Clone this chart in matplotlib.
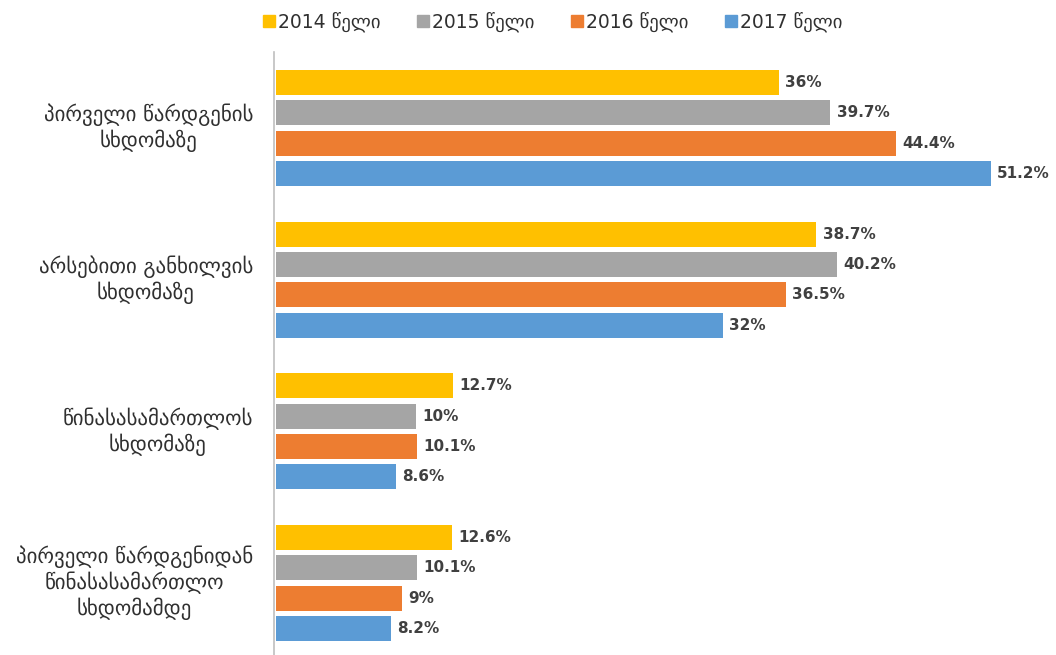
import matplotlib
matplotlib.use("Agg")
import matplotlib.pyplot as plt
from matplotlib.lines import Line2D
import numpy as np

categories = [
    "პირველი წარდგენის\nსხდომაზე",
    "არსებითი განხილვის\nსხდომაზე",
    "წინასასამართლოს\nსხდომაზე",
    "პირველი წარდგენიდან\nწინასასამართლო\nსხდომამდე",
]
series_names = ["2014 წელი", "2015 წელი", "2016 წელი", "2017 წელი"]
v2014 = [36, 38.7, 12.7, 12.6]
v2015 = [39.7, 40.2, 10, 10.1]
v2016 = [44.4, 36.5, 10.1, 9]
v2017 = [51.2, 32, 8.6, 8.2]
values = [v2014, v2015, v2016, v2017]
colors = ["#FFC000", "#A5A5A5", "#ED7D31", "#5B9BD5"]

plt.rcParams['font.family'] = ['DejaVu Sans']

W, H = 1056, 655
fig = plt.figure(figsize=(W / 100, H / 100), dpi=100)
left = 274 / W
top_px = 52
axh_px = 607
ax = fig.add_axes([left, 1 - (top_px + axh_px) / H, 1 - left, axh_px / H])

px_per_unit = 13.96
ax.set_xlim(0, (W - 274) / px_per_unit)
ax.set_ylim(3.5, -0.5)

y = np.arange(len(categories))
pitch = 0.2
bh = 0.165
for i, (vals, c) in enumerate(zip(values, colors)):
    pos = y - 0.3 + i * pitch
    ax.barh(pos, vals, height=bh, color=c, left=0.15)
    for p, v in zip(pos, vals):
        ax.text(v + 0.15 + 0.45, p, f"{v:g}%", va='center', ha='left',
                fontsize=11, fontweight='bold', color='#404040')

for s in ['top', 'right', 'bottom']:
    ax.spines[s].set_visible(False)
ax.spines['left'].set_color('#BFBFBF')
ax.spines['left'].set_linewidth(1.2)
ax.set_xticks([])
ax.set_yticks([])

for yy, lab in zip(y, categories):
    ax.annotate(lab, xy=(0, yy), xycoords=('axes fraction', 'data'),
                xytext=(-21, 0), textcoords='offset pixels',
                ha='right', va='center', multialignment='center',
                fontsize=15, color='#303030', linespacing=1.2)

handles = [Line2D([], [], marker='s', linestyle='none', markersize=9,
                  markerfacecolor=c, markeredgecolor=c) for c in colors]
fig.legend(handles, series_names, loc='center', bbox_to_anchor=(552 / W, 1 - 22 / H),
           ncol=4, frameon=False, fontsize=13.5, handletextpad=0.05,
           columnspacing=1.9, handlelength=0.8, labelcolor='#303030')

fig.savefig("out.png", dpi=100)
